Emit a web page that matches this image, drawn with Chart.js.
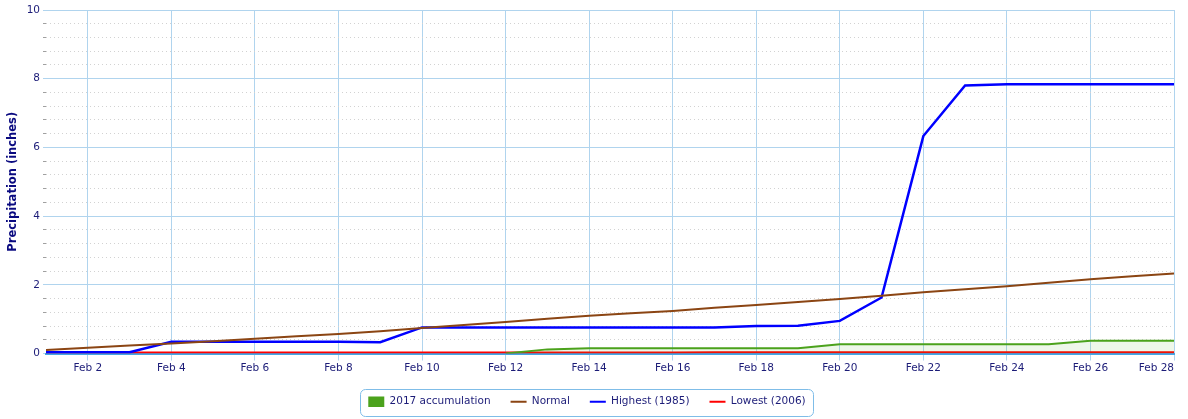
<!DOCTYPE html>
<html>
<head>
<meta charset="utf-8">
<script src="https://cdn.jsdelivr.net/npm/chart.js@4/dist/chart.umd.min.js"></script>
<style>
  html, body { margin: 0; padding: 0; background: #ffffff; }
  #wrap { width: 1188px; height: 419px; }
</style>
</head>
<body>
<div id="wrap"><canvas id="c" width="1188" height="419"></canvas></div>
<script>
// ---- data (February, day of month) ----
const days = [1,2,3,4,5,6,7,8,9,10,11,12,13,14,15,16,17,18,19,20,21,22,23,24,25,26,27,28];
const accum2017 = [null,null,null,null,null,null,null,null,null,null,null,0,0.12,0.15,0.15,0.15,0.15,0.15,0.15,0.27,0.27,0.27,0.27,0.27,0.27,0.37,0.37,0.37];
const normal = [0.10,0.17,0.23,0.29,0.36,0.43,0.50,0.57,0.65,0.74,0.83,0.92,1.01,1.10,1.17,1.24,1.33,1.41,1.50,1.59,1.68,1.78,1.87,1.96,2.06,2.16,2.25,2.33];
const highest1985 = [0.04,0.04,0.04,0.34,0.34,0.34,0.34,0.34,0.33,0.76,0.76,0.76,0.76,0.76,0.76,0.76,0.76,0.80,0.81,0.95,1.63,6.33,7.80,7.84,7.84,7.84,7.84,7.84];
const lowest2006 = [0.03,0.03,0.03,0.03,0.03,0.03,0.03,0.03,0.03,0.03,0.03,0.03,0.03,0.03,0.03,0.03,0.04,0.04,0.04,0.04,0.04,0.04,0.04,0.04,0.04,0.04,0.04,0.04];
const seriesNames = ['2017 accumulation', 'Normal', 'Highest (1985)', 'Lowest (2006)'];
const xTickDays = [2,4,6,8,10,12,14,16,18,20,22,24,26,28];
const monthLabel = 'Feb';
const yMajorTicks = [0,2,4,6,8,10];
const yTitle = 'Precipitation (inches)';

const pts = arr => days.map((d, i) => ({x: d, y: arr[i]}));
const TXT = '#1c1c78';
const FONT = 'DejaVu Sans';
const FS = 10.5;
const isMajor = v => yMajorTicks.some(m => Math.abs(m - v) < 1e-6);

const legendBorder = {
  id: 'legendBorder',
  afterDraw(chart) {
    const hb = chart.legend && chart.legend.legendHitBoxes;
    if (!hb || !hb.length) return;
    let l = Infinity, r = -Infinity, t = Infinity, b = -Infinity;
    hb.forEach(h => { l = Math.min(l, h.left); r = Math.max(r, h.left + h.width); t = Math.min(t, h.top); b = Math.max(b, h.top + h.height); });
    const ctx = chart.ctx;
    ctx.save();
    ctx.strokeStyle = '#7fbde8';
    ctx.lineWidth = 1;
    ctx.beginPath();
    ctx.roundRect(Math.round(l - 8) + 0.5, Math.round(t - 8) + 0.5, Math.round(r - l + 16), Math.round(b - t + 16), 5);
    ctx.stroke();
    ctx.restore();
  }
};

new Chart(document.getElementById('c'), {
  type: 'line',
  data: {
    datasets: [
      { label: seriesNames[0], data: pts(accum2017), borderColor: '#4ba21c', backgroundColor: 'rgba(90,175,50,0.10)', fill: 'origin', borderWidth: 2, pointRadius: 0, tension: 0 },
      { label: seriesNames[1], data: pts(normal), borderColor: '#8b4513', backgroundColor: '#8b4513', fill: false, borderWidth: 2, pointRadius: 0, tension: 0 },
      { label: seriesNames[2], data: pts(highest1985), borderColor: '#0000ff', backgroundColor: '#0000ff', fill: false, borderWidth: 2.5, pointRadius: 0, tension: 0 },
      { label: seriesNames[3], data: pts(lowest2006), borderColor: '#ff0000', backgroundColor: '#ff0000', fill: false, borderWidth: 2, pointRadius: 0, tension: 0 }
    ]
  },
  options: {
    responsive: false,
    animation: false,
    events: [],
    layout: { padding: { top: 10, right: 14, bottom: 2, left: 0 } },
    plugins: {
      tooltip: { enabled: false },
      legend: {
        position: 'bottom',
        labels: {
          font: { family: FONT, size: FS },
          color: TXT,
          padding: 20,
          usePointStyle: true,
          pointStyleWidth: 16,
          boxHeight: 11,
          generateLabels(chart) {
            return chart.data.datasets.map((ds, i) => ({
              text: ds.label,
              fillStyle: ds.borderColor,
              strokeStyle: ds.borderColor,
              lineWidth: i === 0 ? 0 : 2,
              pointStyle: i === 0 ? 'rect' : 'line',
              hidden: false,
              datasetIndex: i,
              fontColor: TXT
            }));
          }
        }
      }
    },
    scales: {
      x: {
        type: 'linear',
        min: 1,
        max: 28,
        afterBuildTicks(scale) { scale.ticks = [1].concat(xTickDays).map(v => ({value: v})); },
        afterFit(scale) { scale.height = 23; },
        ticks: {
          autoSkip: false,
          maxRotation: 0,
          align: 'inner',
          padding: 1,
          font: { family: FONT, size: FS },
          color: TXT,
          callback: v => (xTickDays.includes(v) ? monthLabel + ' ' + v : '')
        },
        grid: {
          color: ctx => (ctx.tick && ctx.tick.value === 1 ? 'rgba(0,0,0,0)' : '#b0d4ee'),
          lineWidth: 1,
          drawTicks: true,
          tickLength: 7,
          tickColor: ctx => (ctx.tick && ctx.tick.value === 1 ? 'rgba(0,0,0,0)' : '#b0d4ee')
        },
        border: { display: true, color: '#44a6e6', width: 2 }
      },
      y: {
        type: 'linear',
        min: 0,
        max: 10,
        afterBuildTicks(scale) {
          const t = [];
          for (let i = 0; i <= 25; i++) t.push({ value: Math.round(i * 0.4 * 10) / 10 });
          scale.ticks = t;
        },
        afterFit(scale) { scale.width = 46; },
        ticks: {
          autoSkip: false,
          padding: 3,
          font: { family: FONT, size: FS },
          color: TXT,
          callback: v => (isMajor(v) ? String(Math.round(v)) : '')
        },
        grid: {
          color: ctx => (ctx.tick && isMajor(ctx.tick.value) ? '#b0d4ee' : '#d2d2d2'),
          lineWidth: 1,
          drawTicks: true,
          tickLength: 3,
          tickColor: ctx => (ctx.tick && isMajor(ctx.tick.value) ? '#b0d4ee' : '#a0a0a0')
        },
        border: {
          display: false,
          dash: ctx => (ctx.tick && !isMajor(ctx.tick.value) ? [1, 3] : [])
        },
        title: {
          display: true,
          text: yTitle,
          color: '#0a0a80',
          font: { family: FONT, size: 11.5, weight: 'bold' },
          padding: { top: 6, bottom: 0 }
        }
      }
    }
  },
  plugins: [legendBorder]
});
</script>
</body>
</html>
